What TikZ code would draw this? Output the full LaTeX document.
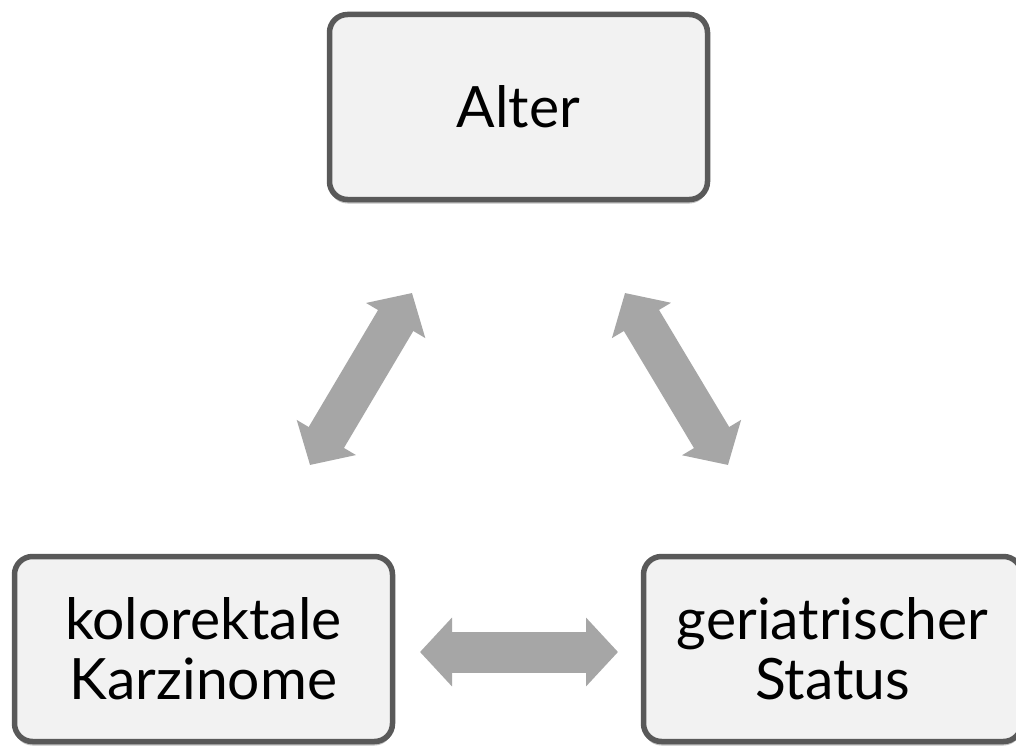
\documentclass[tikz,border=0pt]{standalone}
\usepackage{fontspec}
\setmainfont{Lato}
\usetikzlibrary{arrows.meta,shadows}
\definecolor{boxfill}{HTML}{F2F2F2}
\definecolor{boxline}{HTML}{595959}
\definecolor{arrowgray}{HTML}{A6A6A6}
\tikzset{
  box/.style={draw=boxline, fill=boxfill, line width=5.5pt, rounded corners=18pt,
    minimum width=378pt, minimum height=185pt, align=center, inner sep=0pt,
    font=\fontsize{57}{60}\selectfont, text=black,
    drop shadow={opacity=0.25, shadow xshift=0pt, shadow yshift=-4pt, fill=black}},
  fatarrow/.style={draw=arrowgray, line width=41pt,
    {Triangle[length=32pt,width=67pt]}-{Triangle[length=32pt,width=67pt]}},
}
\begin{document}
\begin{tikzpicture}[x=1pt,y=-1pt]
\useasboundingbox[fill=white] (0,0) rectangle (1016,746);
\node[box] (alter) at (518.5,107) {Alter};
\node[box] (kk) at (203.5,649) {kolorektale\\Karzinome};
\node[box] (gs) at (832.5,649) {geriatrischer\\Status};
\coordinate (l1) at (310,465);
\coordinate (l2) at (412,293);
\coordinate (r1) at (625,293);
\coordinate (r2) at (728,465);
\coordinate (h1) at (420,652);
\coordinate (h2) at (618,652);
\draw[fatarrow] (l1) -- (l2);
\draw[fatarrow] (r1) -- (r2);
\draw[fatarrow] (h1) -- (h2);
\end{tikzpicture}
\end{document}
